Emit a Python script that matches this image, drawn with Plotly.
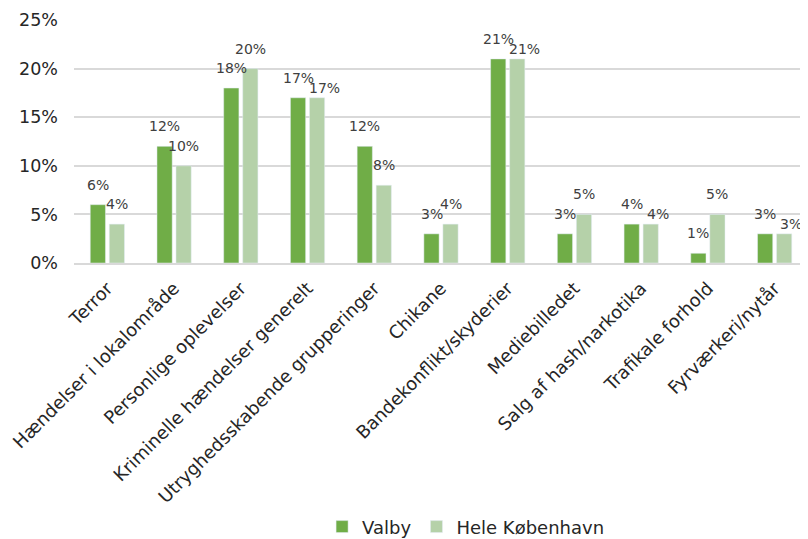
import plotly.graph_objects as go

categories = ["Terror", "Hændelser i lokalområde", "Personlige oplevelser",
              "Kriminelle hændelser generelt", "Utryghedsskabende grupperinger",
              "Chikane", "Bandekonflikt/skyderier", "Mediebilledet",
              "Salg af hash/narkotika", "Trafikale forhold", "Fyrværkeri/nytår"]
valby = [6, 12, 18, 17, 12, 3, 21, 3, 4, 1, 3]
hele_kbh = [4, 10, 20, 17, 8, 4, 21, 5, 4, 5, 3]
y_ticks = [0, 5, 10, 15, 20, 25]
y_tick_labels = ["0%", "5%", "10%", "15%", "20%", "25%"]

FONT = "DejaVu Sans"
TXT = "#262626"
LBL = "#404040"
C_VALBY = "#70AD47"
C_HELE = "#B5D1A9"

fig = go.Figure()
fig.add_trace(go.Bar(x=categories, y=valby, name="Valby", marker_color=C_VALBY))
fig.add_trace(go.Bar(x=categories, y=hele_kbh, name="Hele København", marker_color=C_HELE))

# data labels, placed above each bar of the group (offset in px from the category centre)
annotations = []
for cat, v, h in zip(categories, valby, hele_kbh):
    annotations.append(dict(x=cat, y=v, xref="x", yref="y", text=f"{v}%",
                            showarrow=False, xshift=-9.5, yshift=20, yanchor="middle",
                            font=dict(family=FONT, size=14, color=LBL)))
    same = (v == h)
    annotations.append(dict(x=cat, y=h, xref="x", yref="y", text=f"{h}%",
                            showarrow=False, xshift=9.5 + (7 if same else 0),
                            yshift=10 if same else 20, yanchor="middle",
                            font=dict(family=FONT, size=14, color=LBL)))

# the page body has an 8px margin, so the figure is drawn 8px smaller
fig.update_layout(
    width=800, height=531,
    margin=dict(l=66, r=0, t=12, b=276, autoexpand=False),
    plot_bgcolor="white", paper_bgcolor="white",
    font=dict(family=FONT, color=TXT),
    barmode="group", bargap=0.43, bargroupgap=0.2,
    showlegend=True,
    legend=dict(orientation="h", x=0.338, xanchor="left", y=-1.086, yanchor="middle",
                font=dict(family=FONT, size=18, color=TXT), traceorder="normal",
                itemclick=False),
    annotations=annotations,
    xaxis=dict(tickangle=-45, tickfont=dict(family=FONT, size=18, color=TXT),
               showline=True, linecolor="#D9D9D9", linewidth=1.5, ticks="",
               ticklabelstandoff=6, automargin=False),
    yaxis=dict(range=[0, 25], tickvals=y_ticks, ticktext=y_tick_labels,
               tickfont=dict(family=FONT, size=17.5, color=TXT),
               showgrid=True, gridcolor="#D9D9D9", gridwidth=1.5, zeroline=False,
               ticks="", ticklabelstandoff=15, automargin=False),
)
fig.write_html("out.html")
